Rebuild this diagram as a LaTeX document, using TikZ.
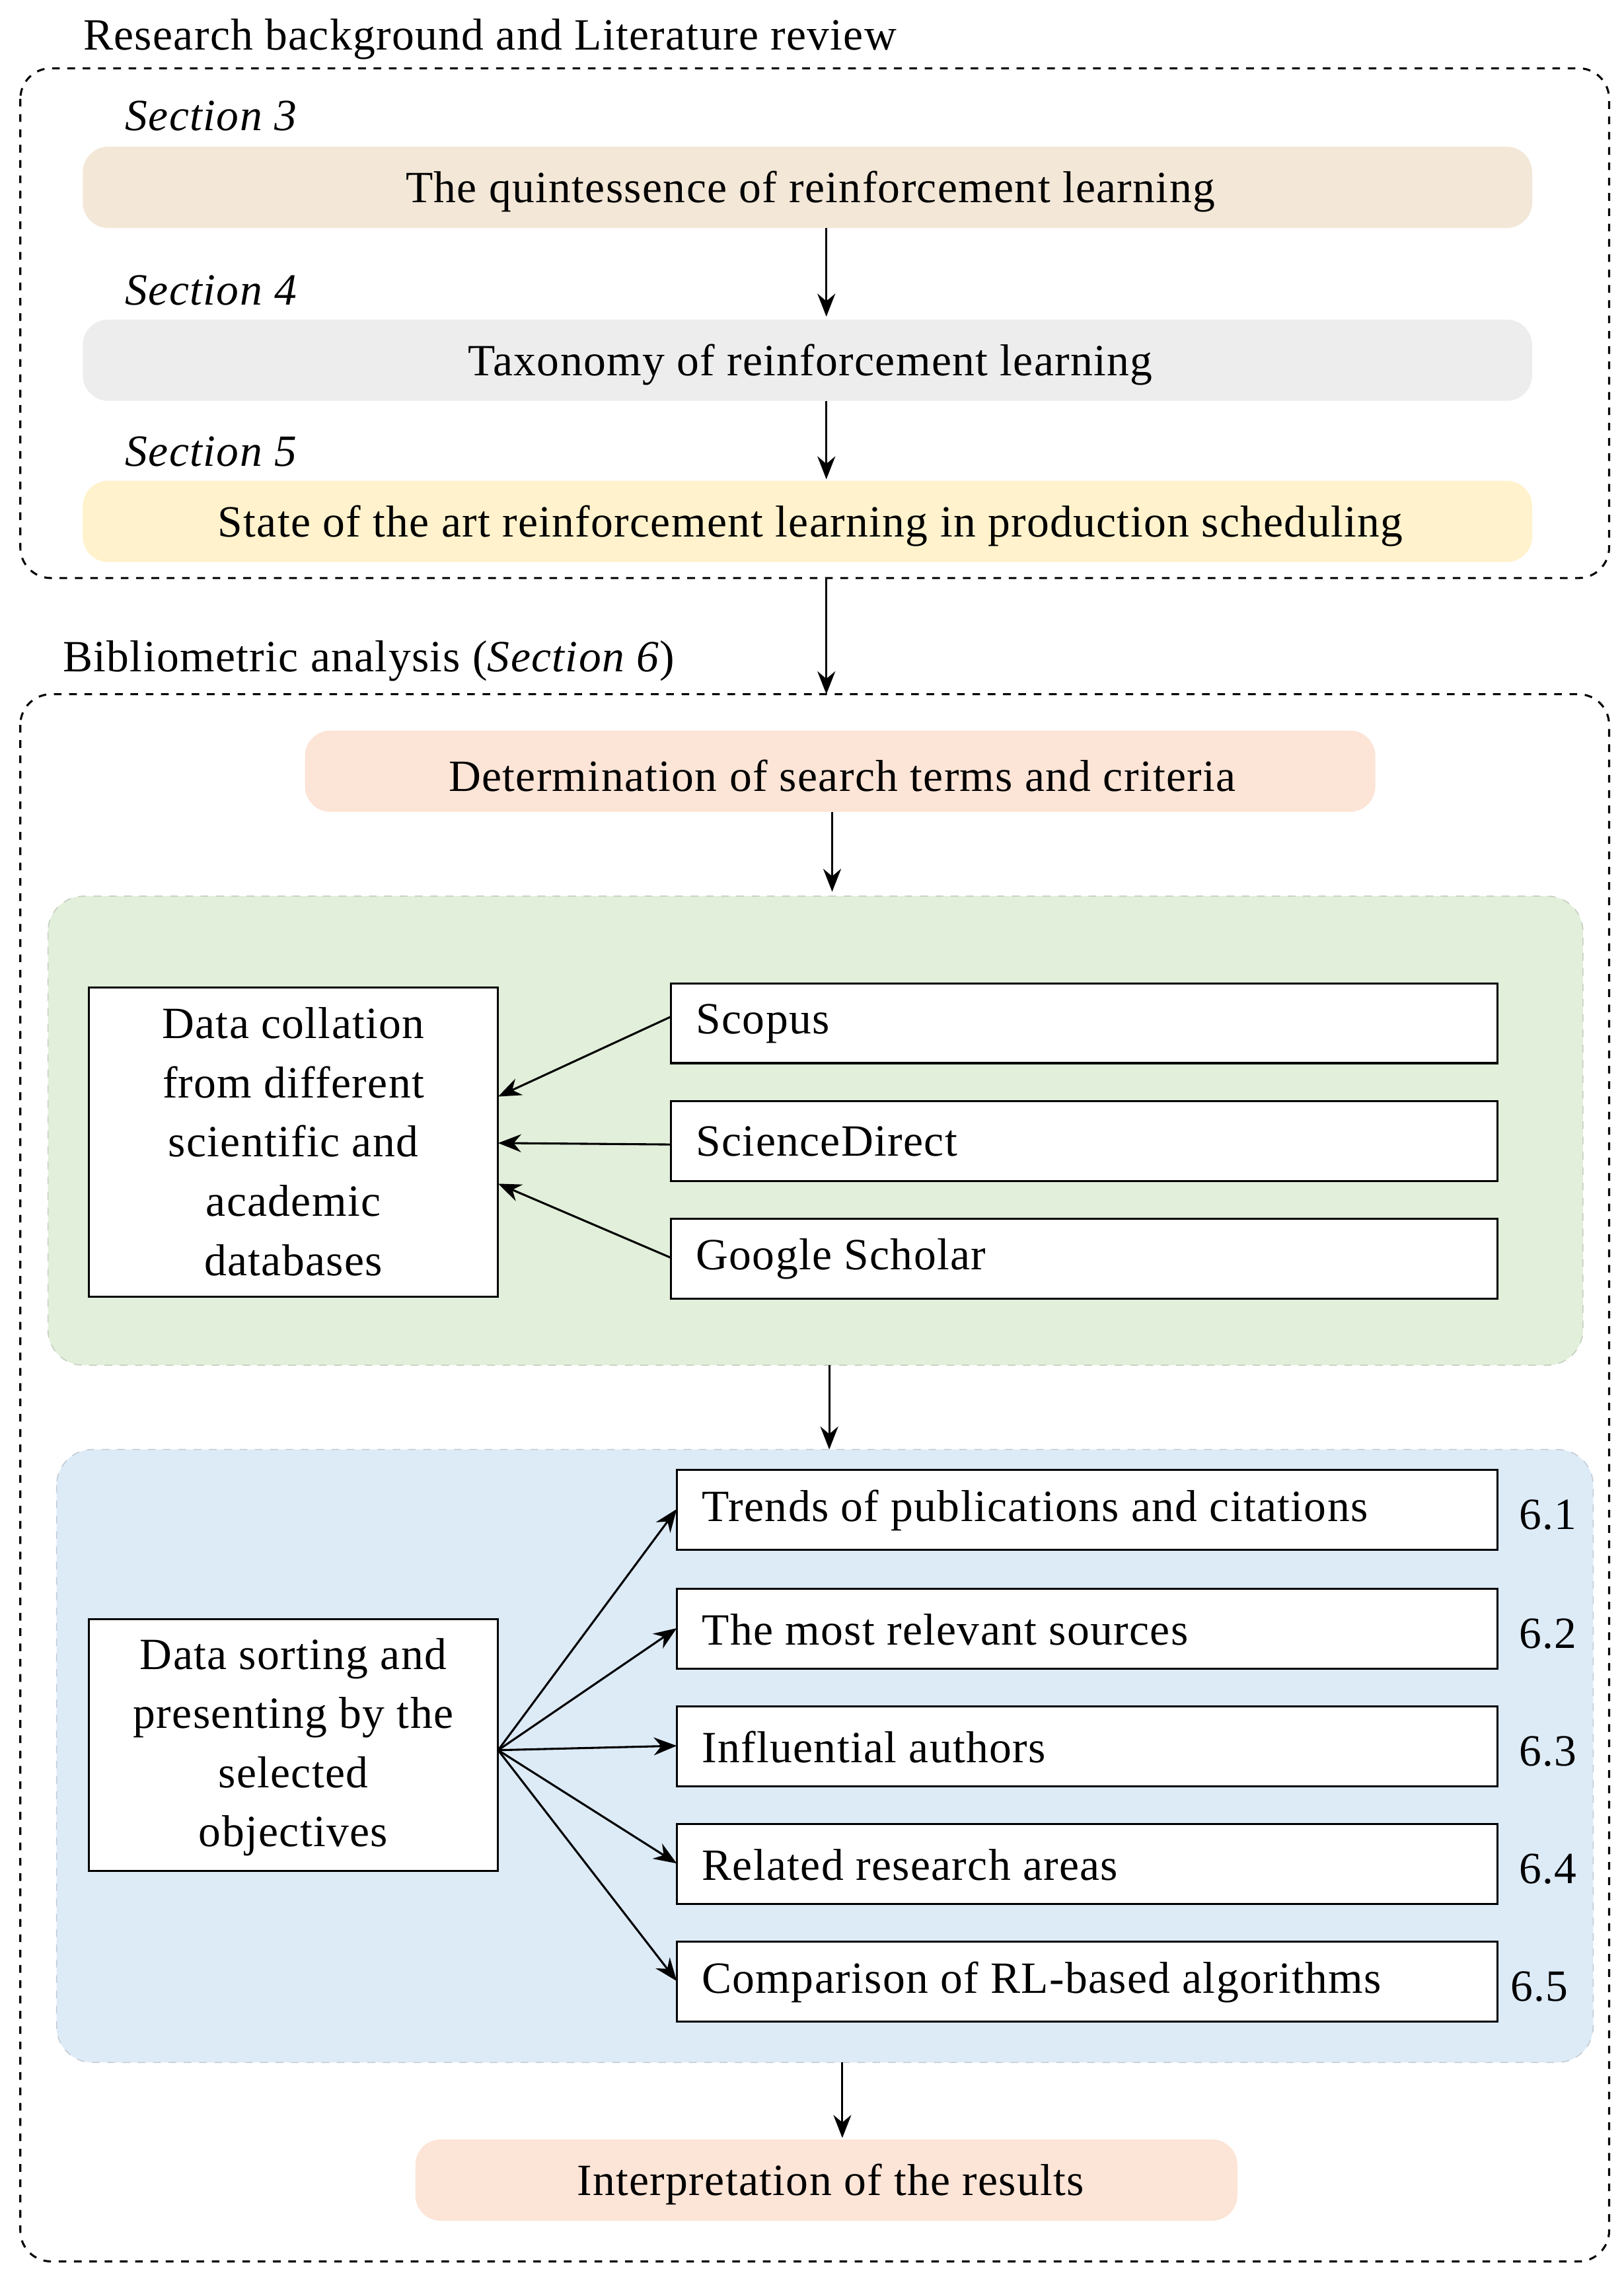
\documentclass[tikz,border=0pt]{standalone}
\usepackage{fontspec}
\setmainfont{Liberation Serif}[LetterSpace=2]
\usetikzlibrary{arrows.meta}
\definecolor{tan}{HTML}{F3E7D7}
\definecolor{gry}{HTML}{EDEDED}
\definecolor{ylw}{HTML}{FFF2CC}
\definecolor{pch}{HTML}{FCE4D6}
\definecolor{grn}{HTML}{E2EFDA}
\definecolor{blu}{HTML}{DDEBF7}
\begin{document}
\begin{tikzpicture}[x=0.02cm,y=-0.02cm,font=\fontsize{17.5}{23.2}\selectfont,
 outer/.style={draw,dashed,rounded corners=12pt,thick},
 wb/.style={draw,fill=white,thick},
 arr/.style={-{Stealth[length=9pt,width=7pt]},thick},
 lbl/.style={anchor=west,inner sep=0}]
\useasboundingbox (0,0) rectangle (1118,1565);
\node[lbl] (t1) at (57,27) {Research background and Literature review};
\draw[outer] (14,47) rectangle (1108,398);
\node[lbl] (s3) at (86,80) {\itshape Section 3};
\fill[tan,rounded corners=10pt] (57,101) rectangle (1055,157);
\node (b1) at (558,132) {The quintessence of reinforcement learning};
\node[lbl] (s4) at (86,200) {\itshape Section 4};
\fill[gry,rounded corners=10pt] (57,220) rectangle (1055,276);
\node (b2) at (558,251) {Taxonomy of reinforcement learning};
\node[lbl] (s5) at (86,311) {\itshape Section 5};
\fill[ylw,rounded corners=10pt] (57,331) rectangle (1055,387);
\node (b3) at (558,362) {State of the art reinforcement learning in production scheduling};
\coordinate (a1) at (569,157); \coordinate (a2) at (569,218);
\coordinate (a3) at (569,276); \coordinate (a4) at (569,330);
\coordinate (a5) at (569,398); \coordinate (a6) at (569,478);
\draw[arr] (a1)--(a2); \draw[arr] (a3)--(a4); \draw[arr] (a5)--(a6);
\node[lbl] (t2) at (43,455) {Bibliometric analysis (\textit{Section 6})};
\draw[outer] (14,478) rectangle (1108,1557);
\fill[pch,rounded corners=10pt] (210,503) rectangle (947,559);
\node (d) at (580,534) {Determination of search terms and criteria};
\coordinate (c1) at (573,559); \coordinate (c2) at (573,614);
\draw[arr] (c1)--(c2);
\draw[grn!70!gray,dashed,fill=grn,rounded corners=14pt] (33,617) rectangle (1090,940);
\draw[wb] (61,680) rectangle (343,893);
\node[align=center] (dc) at (202,786) {Data collation\\from different\\scientific and\\academic\\databases};
\coordinate (dc1) at (343,755);\coordinate (dc2) at (343,787);\coordinate (dc3) at (343,815);
\foreach \n/\t/\y in {sc/Scopus/677,sd/ScienceDirect/758,gs/Google Scholar/839}{
 \draw[wb] (462,\y) rectangle (1031,\y+55);
 \node[lbl] (\n) at (479,\y+28) {\t};}
\coordinate (e1) at (462,700);\coordinate (e2) at (462,788);\coordinate (e3) at (462,866);
\draw[arr] (e1)--(dc1); \draw[arr] (e2)--(dc2); \draw[arr] (e3)--(dc3);
\coordinate (c3) at (571,940); \coordinate (c4) at (571,998);
\draw[arr] (c3)--(c4);
\draw[blu!70!gray,dashed,fill=blu,rounded corners=14pt] (39,998) rectangle (1097,1420);
\draw[wb] (61,1115) rectangle (343,1288);
\node[align=center] (ds) at (202,1203) {Data sorting and\\presenting by the\\selected\\objectives};
\coordinate (src) at (343,1205);
\foreach \n/\t/\y/\k/\lx in {r1/Trends of publications and citations/1012/6.1/1066,r2/The most relevant sources/1094/6.2/1066,r3/Influential authors/1175/6.3/1066,r4/Related research areas/1256/6.4/1066,r5/Comparison of RL-based algorithms/1337/6.5/1060}{
 \draw[wb] (466,\y) rectangle (1031,\y+55);
 \node[lbl] (\n) at (483,\y+28) {\t};
 \node (\n k) at (\lx,\y+31) {\k};
 \coordinate (\n e) at (466,\y+27);
 \draw[arr] (src)--(\n e);}
\coordinate (c5) at (580,1420); \coordinate (c6) at (580,1472);
\draw[arr] (c5)--(c6);
\fill[pch,rounded corners=10pt] (286,1473) rectangle (852,1529);
\node (ir) at (572,1504) {Interpretation of the results};
\end{tikzpicture}
\end{document}
